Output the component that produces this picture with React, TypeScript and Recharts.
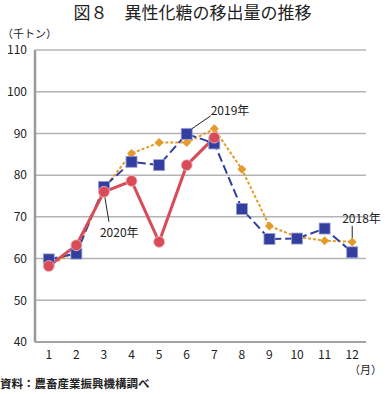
import React from "react";
import { LineChart, Line, XAxis, YAxis, CartesianGrid } from "recharts";

const months = [1, 2, 3, 4, 5, 6, 7, 8, 9, 10, 11, 12];
const y2018 = [58.3, 61.8, 76.8, 85.2, 87.8, 87.8, 91.1, 81.4, 67.8, 65.2, 64.3, 64.0];
const y2019 = [59.8, 61.2, 77.2, 83.2, 82.4, 89.9, 87.6, 71.9, 64.7, 64.8, 67.2, 61.5];
const y2020: (number | null)[] = [58.2, 63.2, 76.0, 78.6, 64.0, 82.4, 89.0, null, null, null, null, null];
const yTicks = [40, 50, 60, 70, 80, 90, 100, 110];
const boundaryTicks = [0.5, 1.5, 2.5, 3.5, 4.5, 5.5, 6.5, 7.5, 8.5, 9.5, 10.5, 11.5, 12.5];

const data = months.map((m, i) => ({ m, a: y2018[i], b: y2019[i], c: y2020[i] }));

const FONT = "'Noto Sans CJK JP', 'Noto Sans', sans-serif";
const RED = "#d84b57";
const BLUE = "#333f9e";
const ORANGE = "#e39b2a";

const Diamond = (p: any) => {
  const { cx, cy, index } = p;
  if (cx == null || cy == null) return <g key={index} />;
  const s = 4.5;
  return (
    <g key={index}>
      <path d={`M${cx},${cy - s}L${cx + s},${cy}L${cx},${cy + s}L${cx - s},${cy}Z`} fill={ORANGE} />
      {index === 11 && (
        <g>
          <line x1={cx} y1={cy - 4} x2={cx} y2={cy - 16} stroke="#222" strokeWidth={1} />
          <text x={cx - 10} y={cy - 19} fontSize={12} fontFamily={FONT} fill="#222">2018年</text>
        </g>
      )}
    </g>
  );
};

const Square = (p: any) => {
  const { cx, cy, index } = p;
  if (cx == null || cy == null) return <g key={index} />;
  const s = 5.5;
  return (
    <g key={index}>
      <rect x={cx - s} y={cy - s} width={2 * s} height={2 * s} fill={BLUE} stroke="#9aa0d8" strokeWidth={0.8} />
      {index === 5 && (
        <g>
          <line x1={cx + 5} y1={cy - 5} x2={cx + 24} y2={cy - 18} stroke="#222" strokeWidth={1} />
          <text x={cx + 24} y={cy - 19} fontSize={12} fontFamily={FONT} fill="#222">2019年</text>
        </g>
      )}
    </g>
  );
};

const Circle = (p: any) => {
  const { cx, cy, index } = p;
  if (cx == null || cy == null) return <g key={index} />;
  return (
    <g key={index}>
      {index === 2 && (
        <g>
          <line x1={cx} y1={cy} x2={cx + 5} y2={cy + 30} stroke="#222" strokeWidth={1} />
          <text x={cx - 4} y={cy + 45} fontSize={12} fontFamily={FONT} fill="#222">2020年</text>
        </g>
      )}
      <circle cx={cx} cy={cy} r={5.5} fill={RED} stroke="#f4c0c4" strokeWidth={0.8} />
    </g>
  );
};

const EmptyTick = () => <g />;

export default function App() {
  return (
    <div style={{ position: "absolute", left: 0, top: 0, width: 385, height: 394, background: "#fff", fontFamily: FONT }}>
      <div style={{ position: "absolute", left: 0, top: 1, width: 385, textAlign: "center", fontSize: 17, color: "#222", lineHeight: "22px" }}>
        図８　異性化糖の移出量の推移
      </div>
      <div style={{ position: "absolute", left: 2, top: 26, fontSize: 11, color: "#222", lineHeight: "15px" }}>（千トン）</div>
      <div style={{ position: "absolute", left: 349, top: 362, fontSize: 11, color: "#222", lineHeight: "14px", whiteSpace: "nowrap" }}>（月）</div>
      <div style={{ position: "absolute", left: 0, top: 375, fontSize: 11.5, fontWeight: 700, color: "#222", lineHeight: "16px" }}>資料：農畜産業振興機構調べ</div>
      <LineChart width={385} height={394} data={data} margin={{ top: 50, right: 19, bottom: 22, left: 0 }}>
        <CartesianGrid vertical={false} stroke="#b4b4b4" strokeWidth={1.5} />
        <XAxis
          xAxisId="bound"
          dataKey="m"
          type="number"
          domain={[0.5, 12.5]}
          ticks={boundaryTicks}
          mirror
          tickSize={4}
          axisLine={false}
          tickLine={{ stroke: "#999" }}
          tick={EmptyTick}
          interval={0}
          height={0}
        />
        <XAxis
          xAxisId="main"
          dataKey="m"
          type="number"
          domain={[0.5, 12.5]}
          ticks={months}
          tickLine={false}
          axisLine={{ stroke: "#999", strokeWidth: 1.5 }}
          tick={{ fontSize: 12, fill: "#222", fontFamily: FONT }}
          interval={0}
          height={30}
        />
        <YAxis
          width={35}
          domain={[40, 110]}
          ticks={yTicks}
          tickLine={false}
          axisLine={{ stroke: "#999", strokeWidth: 2.5 }}
          tick={{ fontSize: 12, fill: "#222", fontFamily: FONT }}
          interval={0}
        />
        <Line xAxisId="main" dataKey="a" stroke={ORANGE} strokeWidth={2} strokeDasharray="3 2" dot={Diamond} activeDot={false} isAnimationActive={false} />
        <Line xAxisId="main" dataKey="b" stroke={BLUE} strokeWidth={2} strokeDasharray="9 4" dot={Square} activeDot={false} isAnimationActive={false} />
        <Line xAxisId="main" dataKey="c" stroke={RED} strokeWidth={3} dot={Circle} activeDot={false} isAnimationActive={false} connectNulls={false} />
      </LineChart>
    </div>
  );
}
